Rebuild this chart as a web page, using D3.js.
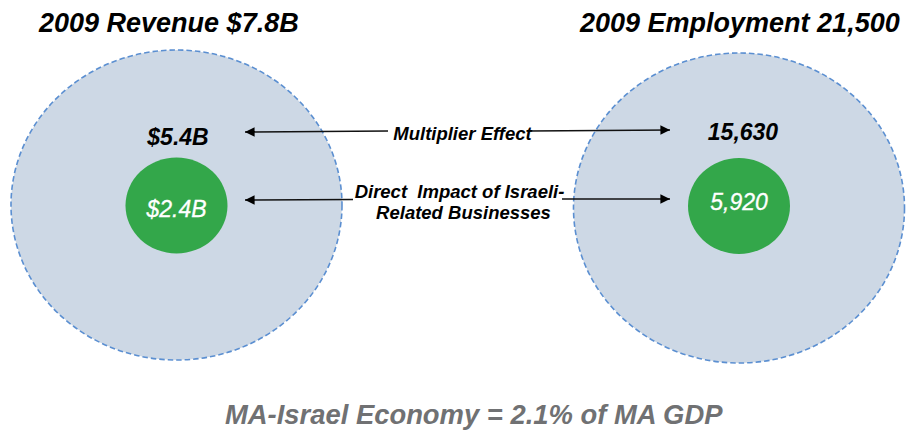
<!DOCTYPE html>
<html>
<head>
<meta charset="utf-8">
<script src="https://cdn.jsdelivr.net/npm/d3@7/dist/d3.min.js"></script>
<style>
  html, body { margin: 0; padding: 0; background: #ffffff; }
  svg { display: block; }
  text { font-family: "Liberation Sans", Arial, "DejaVu Sans", sans-serif; font-style: italic; white-space: pre; }
</style>
</head>
<body>
<script>
// ---- data ----
const panels = ["revenue", "employment"];
const panelTitles = ["2009 Revenue $7.8B", "2009 Employment 21,500"];
const multiplierLabels = ["$5.4B", "15,630"];
const directLabels = ["$2.4B", "5,920"];
const arrowLabels = ["Multiplier Effect", "Direct  Impact of Israeli-", "Related Businesses"];
const footerText = "MA-Israel Economy = 2.1% of MA GDP";

// ---- layout ----
const W = 907, H = 431;
const svg = d3.select("body").append("svg").attr("width", W).attr("height", H);

const defs = svg.append("defs");
defs.append("marker")
  .attr("id", "head")
  .attr("viewBox", "0 0 10 10")
  .attr("refX", 10).attr("refY", 5)
  .attr("markerWidth", 7).attr("markerHeight", 6)
  .attr("markerUnits", "strokeWidth")
  .attr("orient", "auto-start-reverse")
  .append("path").attr("d", "M0,0 L10,5 L0,10 Z").attr("fill", "#000");

const x = d3.scalePoint().domain(panels).range([176.5, 739]);
const cyOuter = [205, 208];
const cyInner = [205.5, 206];

const g = svg.selectAll("g.panel").data(panels).enter().append("g").attr("class", "panel");

// outer ellipse
g.append("ellipse")
  .attr("cx", d => x(d))
  .attr("cy", (d, i) => cyOuter[i])
  .attr("rx", 165.5).attr("ry", 155)
  .attr("fill", "#cdd8e5")
  .attr("stroke", "#5b8fd1")
  .attr("stroke-width", 1.6)
  .attr("stroke-dasharray", "5.5,3");

// inner green ellipse
g.append("ellipse")
  .attr("cx", d => x(d))
  .attr("cy", (d, i) => cyInner[i])
  .attr("rx", 51).attr("ry", 48)
  .attr("fill", "#33a74a");

// titles
const titleX = [39, 580];
g.append("text")
  .attr("x", (d, i) => titleX[i])
  .attr("y", 32)
  .attr("font-size", 27)
  .attr("font-weight", "bold")
  .attr("fill", "#000")
  .text((d, i) => panelTitles[i]);

// multiplier labels
const multY = [145, 140];
const multDX = [1.5, 4];
g.append("text")
  .attr("x", (d, i) => x(d) + multDX[i])
  .attr("y", (d, i) => multY[i])
  .attr("text-anchor", "middle")
  .attr("font-size", 23)
  .attr("font-weight", "bold")
  .attr("fill", "#000")
  .text((d, i) => multiplierLabels[i]);

// direct labels
const directY = [217, 210];
g.append("text")
  .attr("x", d => x(d))
  .attr("y", (d, i) => directY[i])
  .attr("text-anchor", "middle")
  .attr("font-size", 23)
  .attr("fill", "#ffffff")
  .attr("stroke", "#ffffff")
  .attr("stroke-width", 0.3)
  .text((d, i) => directLabels[i]);

// arrows
const arrows = [
  { x1: 388, y1: 131, x2: 245, y2: 132 },
  { x1: 530, y1: 131, x2: 670, y2: 130 },
  { x1: 353, y1: 199.5, x2: 245, y2: 200 },
  { x1: 562, y1: 199, x2: 670, y2: 199 }
];
svg.selectAll("line.arrow").data(arrows).enter().append("line")
  .attr("class", "arrow")
  .attr("x1", d => d.x1).attr("y1", d => d.y1)
  .attr("x2", d => d.x2).attr("y2", d => d.y2)
  .attr("stroke", "#111")
  .attr("stroke-width", 1.6)
  .attr("marker-end", "url(#head)");

// arrow labels
svg.append("text")
  .attr("x", 462.5).attr("y", 140)
  .attr("text-anchor", "middle")
  .attr("font-size", 18.5)
  .attr("font-weight", "bold")
  .attr("fill", "#000")
  .text(arrowLabels[0]);

svg.append("text")
  .attr("x", 459.5).attr("y", 198)
  .attr("text-anchor", "middle")
  .attr("font-size", 18.5)
  .attr("font-weight", "bold")
  .attr("fill", "#000")
  .text(arrowLabels[1]);

svg.append("text")
  .attr("x", 463.5).attr("y", 219)
  .attr("text-anchor", "middle")
  .attr("font-size", 18.5)
  .attr("font-weight", "bold")
  .attr("fill", "#000")
  .text(arrowLabels[2]);

// footer
svg.append("text")
  .attr("x", 225).attr("y", 424)
  .attr("font-size", 27.4)
  .attr("font-weight", "bold")
  .attr("fill", "#707173")
  .text(footerText);
</script>
</body>
</html>
